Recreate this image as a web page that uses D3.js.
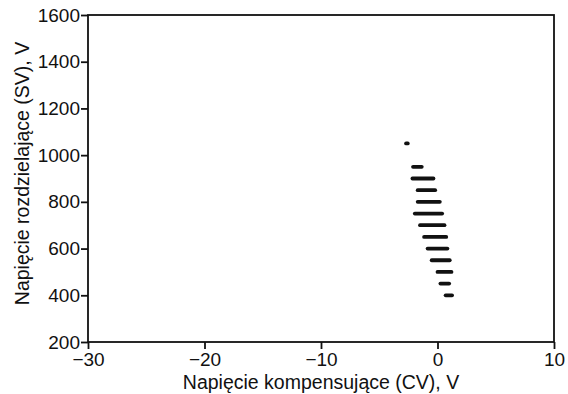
<!DOCTYPE html>
<html lang="pl">
<head>
<meta charset="UTF-8">
<title>SV vs CV</title>
<script src="https://d3js.org/d3.v7.min.js"></script>
<style>
  body { margin: 0; background: #fff; }
  svg text { font-family: "Liberation Sans", Arial, sans-serif; fill: #111; }
</style>
</head>
<body>
<div id="chart"></div>
<script>
// SV levels (V) and CV range (V) of each band
const svLevels = [1050, 950, 900, 850, 800, 750, 700, 650, 600, 550, 500, 450, 400];
const cvStart  = [-2.7, -2.1, -2.15, -1.7, -1.7, -1.95, -1.5, -1.15, -0.85, -0.5, 0.0, 0.25, 0.7];
const cvEnd    = [-2.55, -1.35, -0.35, -0.2, 0.2, 0.4, 0.6, 0.75, 0.85, 1.05, 1.2, 1.0, 1.25];
const xTicks = [-30, -20, -10, 0, 10];
const yTicks = [200, 400, 600, 800, 1000, 1200, 1400, 1600];

const width = 568, height = 394;
const margin = { top: 15, right: 14, bottom: 52, left: 88 };

const svg = d3.select('#chart').append('svg')
    .attr('width', width)
    .attr('height', height);

const x = d3.scaleLinear().domain([-30, 10]).range([margin.left, width - margin.right]);
const y = d3.scaleLinear().domain([200, 1600]).range([height - margin.bottom, margin.top]);

// frame
svg.append('rect')
    .attr('x', margin.left).attr('y', margin.top)
    .attr('width', x(10) - x(-30)).attr('height', y(200) - y(1600))
    .attr('fill', 'none').attr('stroke', '#111').attr('stroke-width', 1.8);

const xAxis = svg.append('g')
    .attr('transform', `translate(0,${y(200)})`)
    .call(d3.axisBottom(x).tickValues(xTicks).tickSize(7).tickPadding(4));
const yAxis = svg.append('g')
    .attr('transform', `translate(${x(-30)},0)`)
    .call(d3.axisLeft(y).tickValues(yTicks).tickFormat(d3.format('d')).tickSize(7).tickPadding(1));

[xAxis, yAxis].forEach(g => {
    g.select('.domain').remove();
    g.selectAll('line').attr('stroke', '#111').attr('stroke-width', 1.8);
    g.selectAll('text').attr('font-size', 19).attr('fill', '#111');
});

// bands
svg.selectAll('line.band')
    .data(svLevels)
    .enter().append('line')
    .attr('class', 'band')
    .attr('x1', (d, i) => x(cvStart[i]))
    .attr('x2', (d, i) => x(cvEnd[i]))
    .attr('y1', d => y(d))
    .attr('y2', d => y(d))
    .attr('stroke', '#111')
    .attr('stroke-width', 3.8)
    .attr('stroke-linecap', 'round');

svg.append('text')
    .attr('x', (x(-30) + x(10)) / 2)
    .attr('y', 389)
    .attr('text-anchor', 'middle')
    .attr('font-size', 19.5)
    .text('Napięcie kompensujące (CV), V');

svg.append('text')
    .attr('transform', `translate(29,${(y(200) + y(1600)) / 2 - 5}) rotate(-90)`)
    .attr('text-anchor', 'middle')
    .attr('font-size', 19.5)
    .text('Napięcie rozdzielające (SV), V');
</script>
</body>
</html>
